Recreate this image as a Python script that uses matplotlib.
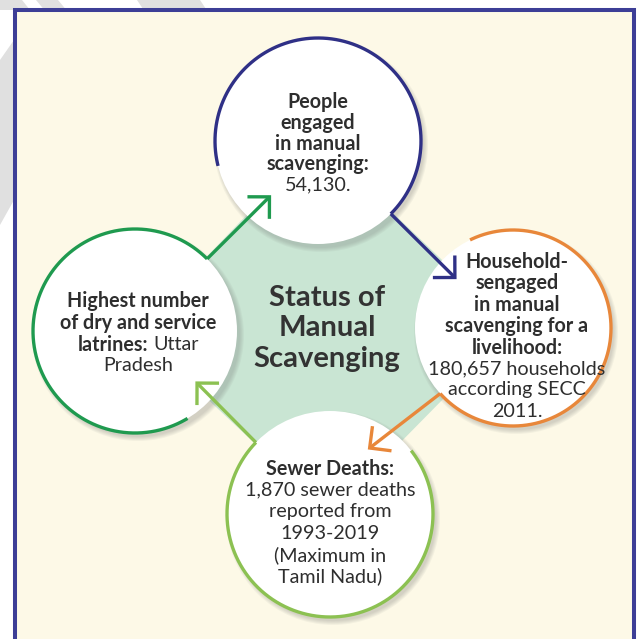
import numpy as np
import matplotlib.pyplot as plt
from matplotlib.patches import Circle, Polygon, Rectangle

# ---- text content ----
center_title = ["Status of", "Manual", "Scavenging"]

top_bold = ["People", "engaged", "in manual", "scavenging:"]
top_plain = ["54,130."]

right_bold = ["Household-", "sengaged", "in manual", "scavenging for a", "livelihood:"]
right_plain = ["180,657 households", "according SECC", "2011."]

left_bold = ["Highest number", "of dry and service", "latrines:"]
left_plain = ["Uttar", "Pradesh"]

bottom_bold = ["Sewer Deaths:"]
bottom_plain = ["1,870 sewer deaths", "reported from", "1993-2019", "(Maximum in", "Tamil Nadu)"]

# ---- colours ----
cream = '#fdf9e7'
frame = '#3d3e96'
diamond_col = '#c9e5d3'
txt = '#2e2e2e'
blue = '#2f3086'
orange = '#e8873a'
lgreen = '#8cc152'
green = '#1f9a4f'

# ---- layout (pixel coordinates, y down) ----
W, H = 637, 639
centers = {'top': (318, 141), 'right': (513, 328), 'bottom': (330, 514), 'left': (135, 331)}
radii = {'top': 103, 'right': 98, 'bottom': 103, 'left': 102}
# arc spans, degrees counter-clockwise as seen on screen
arcs = {'top': (-45, 194, blue), 'right': (-138, 116, orange),
        'bottom': (136, 398, lgreen), 'left': (45, 301, green)}
# arrows: (source, exit angle, target, angle of tip seen from target centre, tip distance, colour)
arrows = [('left', 45, 'top', 229, 74, green),
          ('top', -45, 'right', 139, 77, blue),
          ('right', 222, 'bottom', 59, 77, orange),
          ('bottom', 136, 'left', -40, 81, lgreen)]


def pt(name, ang, dist=None):
    cx, cy = centers[name]
    d = radii[name] if dist is None else dist
    a = np.radians(ang)
    return cx + d * np.cos(a), cy - d * np.sin(a)


fig = plt.figure(figsize=(W / 100, H / 100), dpi=100)
ax = fig.add_axes([0, 0, 1, 1])
ax.set_xlim(0, W)
ax.set_ylim(H, 0)
ax.axis('off')
fig.patch.set_facecolor('white')

# faint watermark stripes outside the frame
for poly in ([(0, 0), (22, 0), (30, 10), (0, 10)],
             [(36, 0), (58, 0), (68, 12), (46, 12)],
             [(137, 0), (200, 0), (208, 12), (145, 12)],
             [(0, 60), (14, 40), (14, 200), (0, 225)]):
    ax.add_patch(Polygon(poly, closed=True, facecolor='#e0e0e0', edgecolor='none', zorder=0))

# frame
ax.add_patch(Rectangle((14.7, 9.5), 618.8, 660, facecolor=cream, edgecolor=frame, lw=2.9, zorder=1))

# central diamond
ax.add_patch(Polygon([centers[k] for k in ['top', 'right', 'bottom', 'left']], closed=True,
                     facecolor=diamond_col, edgecolor='none', zorder=2))

# circles with soft shadow
for k, (cx, cy) in centers.items():
    r = radii[k]
    for i in range(5):
        ax.add_patch(Circle((cx + 3, cy + 4), r + 4 - i, facecolor='#7a7a7a', alpha=0.07,
                            edgecolor='none', zorder=3))
    ax.add_patch(Circle((cx, cy), r, facecolor='white', edgecolor='none', zorder=4))

# outline arcs
for k, (a1, a2, col) in arcs.items():
    t = np.linspace(a1, a2, 200)
    xs, ys = pt(k, t)
    ax.plot(xs, ys, color=col, lw=2.4, solid_capstyle='butt', zorder=5)

# arrows
for src, ang, tgt, tang, tdist, col in arrows:
    x0, y0 = pt(src, ang)
    x1, y1 = pt(tgt, tang, tdist)
    ax.plot([x0, x1], [y0, y1], color=col, lw=2.4, solid_capstyle='butt', zorder=6)
    back = np.arctan2(y0 - y1, x0 - x1)
    head = 22
    ha1 = (x1 + head * np.cos(back + np.pi / 4), y1 + head * np.sin(back + np.pi / 4))
    ha2 = (x1 + head * np.cos(back - np.pi / 4), y1 + head * np.sin(back - np.pi / 4))
    ax.plot([ha1[0], x1, ha2[0]], [ha1[1], y1, ha2[1]], color=col, lw=2.4,
            solid_joinstyle='miter', solid_capstyle='butt', zorder=6)

fam = 'Lato'
fs = 14.2


def block(x, y0, step, bold, plain):
    y = y0
    for s in bold:
        ax.text(x, y, s, ha='center', va='center_baseline', fontsize=fs, fontweight='bold',
                color=txt, family=fam, zorder=7)
        y += step
    for s in plain:
        ax.text(x, y, s, ha='center', va='center_baseline', fontsize=fs, color=txt,
                family=fam, zorder=7)
        y += step


block(318, 100, 20.8, top_bold, top_plain)
block(517, 260, 21.4, right_bold, right_plain)
block(330, 467, 21.6, bottom_bold, bottom_plain)

# left circle: mixed bold / regular on third line
ly = [299, 321, 343, 364]
ax.text(138, ly[0], left_bold[0], ha='center', va='center_baseline', fontsize=fs,
        fontweight='bold', color=txt, family=fam, zorder=7)
ax.text(138, ly[1], left_bold[1], ha='center', va='center_baseline', fontsize=fs,
        fontweight='bold', color=txt, family=fam, zorder=7)
t_b = ax.text(0, ly[2], left_bold[2], ha='left', va='center_baseline', fontsize=fs,
              fontweight='bold', color=txt, family=fam, zorder=7)
t_p = ax.text(0, ly[2], left_plain[0], ha='left', va='center_baseline', fontsize=fs,
              color=txt, family=fam, zorder=7)
rend = fig.canvas.get_renderer()
wb = t_b.get_window_extent(rend).width
wp = t_p.get_window_extent(rend).width
gap = 5
x_start = 138 - (wb + gap + wp) / 2
t_b.set_x(x_start)
t_p.set_x(x_start + wb + gap)
ax.text(138, ly[3], left_plain[1], ha='center', va='center_baseline', fontsize=fs,
        color=txt, family=fam, zorder=7)

# centre title
for i, s in enumerate(center_title):
    ax.text(327, 295 + 31 * i, s, ha='center', va='center_baseline', fontsize=21,
            fontweight='bold', color='#333333', family=fam, zorder=7)

fig.savefig('out.png', dpi=100, facecolor='white')
